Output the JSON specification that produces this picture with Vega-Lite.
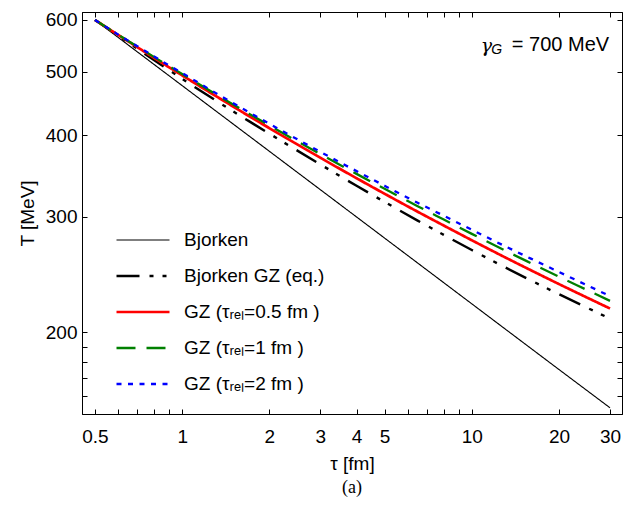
{
  "$schema": "https://vega.github.io/schema/vega-lite/v6.json",
  "width": 540,
  "height": 402,
  "autosize": "none",
  "padding": {"left": 82, "top": 12, "right": 4, "bottom": 99},
  "background": "white",
  "title": {"text": "(a)", "orient": "bottom", "font": "Liberation Serif", "fontSize": 18, "fontWeight": "normal", "color": "black", "offset": 6},
  "config": {
    "view": {"stroke": "black", "strokeWidth": 1},
    "axis": {"domainColor": "black", "tickColor": "black", "labelColor": "black", "titleColor": "black", "labelFont": "Liberation Sans", "titleFont": "Liberation Sans", "labelFontSize": 19, "titleFontSize": 19, "titleFontWeight": "normal", "grid": false, "tickSize": -5, "labelPadding": 10, "labelOverlap": false, "labelFlush": false},
    "legend": {"orient": "none", "legendX": 33, "legendY": 210, "symbolType": "stroke", "symbolSize": 2809, "clipHeight": 36, "rowPadding": 0, "labelFont": "Liberation Sans", "labelFontSize": 19, "labelColor": "black", "labelOffset": 13, "padding": 0, "labelLimit": 400}
  },
  "datasets": {
    "curves": [
      {"tau": 0.5, "T": 600, "s": "Bjorken"},
      {"tau": 1, "T": 476.2, "s": "Bjorken"},
      {"tau": 2, "T": 378.0, "s": "Bjorken"},
      {"tau": 5, "T": 278.5, "s": "Bjorken"},
      {"tau": 10, "T": 221.0, "s": "Bjorken"},
      {"tau": 20, "T": 175.4, "s": "Bjorken"},
      {"tau": 30, "T": 153.3, "s": "Bjorken"},
      {"tau": 0.5, "T": 600, "s": "Bjorken GZ (eq.)"},
      {"tau": 0.6, "T": 568.2, "s": "Bjorken GZ (eq.)"},
      {"tau": 0.7, "T": 542.1, "s": "Bjorken GZ (eq.)"},
      {"tau": 0.85, "T": 511.5, "s": "Bjorken GZ (eq.)"},
      {"tau": 1, "T": 487.8, "s": "Bjorken GZ (eq.)"},
      {"tau": 1.3, "T": 452.6, "s": "Bjorken GZ (eq.)"},
      {"tau": 1.7, "T": 420.3, "s": "Bjorken GZ (eq.)"},
      {"tau": 2.2, "T": 392.0, "s": "Bjorken GZ (eq.)"},
      {"tau": 3, "T": 360.9, "s": "Bjorken GZ (eq.)"},
      {"tau": 4, "T": 334.8, "s": "Bjorken GZ (eq.)"},
      {"tau": 5, "T": 316.3, "s": "Bjorken GZ (eq.)"},
      {"tau": 6.5, "T": 296.2, "s": "Bjorken GZ (eq.)"},
      {"tau": 8, "T": 281.7, "s": "Bjorken GZ (eq.)"},
      {"tau": 10, "T": 267.1, "s": "Bjorken GZ (eq.)"},
      {"tau": 13, "T": 251.4, "s": "Bjorken GZ (eq.)"},
      {"tau": 16, "T": 240.0, "s": "Bjorken GZ (eq.)"},
      {"tau": 20, "T": 228.6, "s": "Bjorken GZ (eq.)"},
      {"tau": 25, "T": 218.0, "s": "Bjorken GZ (eq.)"},
      {"tau": 30, "T": 209.8, "s": "Bjorken GZ (eq.)"},
      {"tau": 0.5, "T": 600, "s": "GZ (τᵣₑₗ=0.5 fm )"},
      {"tau": 0.6, "T": 569.5, "s": "GZ (τᵣₑₗ=0.5 fm )"},
      {"tau": 0.7, "T": 545.2, "s": "GZ (τᵣₑₗ=0.5 fm )"},
      {"tau": 0.85, "T": 516.2, "s": "GZ (τᵣₑₗ=0.5 fm )"},
      {"tau": 1, "T": 493.7, "s": "GZ (τᵣₑₗ=0.5 fm )"},
      {"tau": 1.3, "T": 459.7, "s": "GZ (τᵣₑₗ=0.5 fm )"},
      {"tau": 1.7, "T": 427.9, "s": "GZ (τᵣₑₗ=0.5 fm )"},
      {"tau": 2.2, "T": 400.0, "s": "GZ (τᵣₑₗ=0.5 fm )"},
      {"tau": 3, "T": 369.5, "s": "GZ (τᵣₑₗ=0.5 fm )"},
      {"tau": 4, "T": 343.8, "s": "GZ (τᵣₑₗ=0.5 fm )"},
      {"tau": 5, "T": 325.5, "s": "GZ (τᵣₑₗ=0.5 fm )"},
      {"tau": 6.5, "T": 305.6, "s": "GZ (τᵣₑₗ=0.5 fm )"},
      {"tau": 8, "T": 291.1, "s": "GZ (τᵣₑₗ=0.5 fm )"},
      {"tau": 10, "T": 276.4, "s": "GZ (τᵣₑₗ=0.5 fm )"},
      {"tau": 13, "T": 260.4, "s": "GZ (τᵣₑₗ=0.5 fm )"},
      {"tau": 16, "T": 248.7, "s": "GZ (τᵣₑₗ=0.5 fm )"},
      {"tau": 20, "T": 236.9, "s": "GZ (τᵣₑₗ=0.5 fm )"},
      {"tau": 25, "T": 225.9, "s": "GZ (τᵣₑₗ=0.5 fm )"},
      {"tau": 30, "T": 217.4, "s": "GZ (τᵣₑₗ=0.5 fm )"},
      {"tau": 0.5, "T": 600, "s": "GZ (τᵣₑₗ=1 fm )"},
      {"tau": 0.6, "T": 569.9, "s": "GZ (τᵣₑₗ=1 fm )"},
      {"tau": 0.7, "T": 546.4, "s": "GZ (τᵣₑₗ=1 fm )"},
      {"tau": 0.85, "T": 518.0, "s": "GZ (τᵣₑₗ=1 fm )"},
      {"tau": 1, "T": 496.2, "s": "GZ (τᵣₑₗ=1 fm )"},
      {"tau": 1.3, "T": 462.6, "s": "GZ (τᵣₑₗ=1 fm )"},
      {"tau": 1.7, "T": 431.4, "s": "GZ (τᵣₑₗ=1 fm )"},
      {"tau": 2.2, "T": 404.1, "s": "GZ (τᵣₑₗ=1 fm )"},
      {"tau": 3, "T": 374.2, "s": "GZ (τᵣₑₗ=1 fm )"},
      {"tau": 4, "T": 349.1, "s": "GZ (τᵣₑₗ=1 fm )"},
      {"tau": 5, "T": 331.2, "s": "GZ (τᵣₑₗ=1 fm )"},
      {"tau": 6.5, "T": 311.6, "s": "GZ (τᵣₑₗ=1 fm )"},
      {"tau": 8, "T": 297.3, "s": "GZ (τᵣₑₗ=1 fm )"},
      {"tau": 10, "T": 282.7, "s": "GZ (τᵣₑₗ=1 fm )"},
      {"tau": 13, "T": 266.7, "s": "GZ (τᵣₑₗ=1 fm )"},
      {"tau": 16, "T": 255.0, "s": "GZ (τᵣₑₗ=1 fm )"},
      {"tau": 20, "T": 243.1, "s": "GZ (τᵣₑₗ=1 fm )"},
      {"tau": 25, "T": 232.0, "s": "GZ (τᵣₑₗ=1 fm )"},
      {"tau": 30, "T": 223.3, "s": "GZ (τᵣₑₗ=1 fm )"},
      {"tau": 0.5, "T": 600, "s": "GZ (τᵣₑₗ=2 fm )"},
      {"tau": 0.6, "T": 570.2, "s": "GZ (τᵣₑₗ=2 fm )"},
      {"tau": 0.7, "T": 547.1, "s": "GZ (τᵣₑₗ=2 fm )"},
      {"tau": 0.85, "T": 519.2, "s": "GZ (τᵣₑₗ=2 fm )"},
      {"tau": 1, "T": 497.7, "s": "GZ (τᵣₑₗ=2 fm )"},
      {"tau": 1.3, "T": 464.5, "s": "GZ (τᵣₑₗ=2 fm )"},
      {"tau": 1.7, "T": 433.7, "s": "GZ (τᵣₑₗ=2 fm )"},
      {"tau": 2.2, "T": 406.7, "s": "GZ (τᵣₑₗ=2 fm )"},
      {"tau": 3, "T": 377.2, "s": "GZ (τᵣₑₗ=2 fm )"},
      {"tau": 4, "T": 352.5, "s": "GZ (τᵣₑₗ=2 fm )"},
      {"tau": 5, "T": 334.8, "s": "GZ (τᵣₑₗ=2 fm )"},
      {"tau": 6.5, "T": 315.4, "s": "GZ (τᵣₑₗ=2 fm )"},
      {"tau": 8, "T": 301.3, "s": "GZ (τᵣₑₗ=2 fm )"},
      {"tau": 10, "T": 286.8, "s": "GZ (τᵣₑₗ=2 fm )"},
      {"tau": 13, "T": 270.8, "s": "GZ (τᵣₑₗ=2 fm )"},
      {"tau": 16, "T": 259.1, "s": "GZ (τᵣₑₗ=2 fm )"},
      {"tau": 20, "T": 247.2, "s": "GZ (τᵣₑₗ=2 fm )"},
      {"tau": 25, "T": 235.9, "s": "GZ (τᵣₑₗ=2 fm )"},
      {"tau": 30, "T": 227.1, "s": "GZ (τᵣₑₗ=2 fm )"}
    ],
    "note": [
      {"label": "γG = 700 MeV"}
    ]
  },
  "layer": [
    {
      "data": {"name": "curves"},
      "mark": {"type": "line", "strokeCap": "butt", "interpolate": "monotone", "clip": true},
      "encoding": {
        "x": {"field": "tau", "type": "quantitative", "scale": {"type": "log", "domain": [0.451, 33], "nice": false},
          "axis": {"orient": "bottom", "title": "τ [fm]", "titlePadding": 8, "labelPadding": 18, "values": [0.5, 0.6, 0.7, 0.8, 0.9, 1, 2, 3, 4, 5, 6, 7, 8, 9, 10, 20, 30],
            "labelExpr": "indexof([0.5, 1, 2, 3, 4, 5, 10, 20, 30], datum.value) >= 0 ? toString(datum.value) : ''"}},
        "y": {"field": "T", "type": "quantitative", "scale": {"type": "log", "domain": [150, 617], "nice": false, "zero": false},
          "axis": {"orient": "left", "title": "T [MeV]", "titlePadding": 8, "values": [160, 170, 180, 190, 200, 300, 400, 500, 600],
            "labelExpr": "indexof([200, 300, 400, 500, 600], datum.value) >= 0 ? toString(datum.value) : ''"}},
        "color": {"field": "s", "type": "nominal", "title": null,
          "scale": {"domain": ["Bjorken", "Bjorken GZ (eq.)", "GZ (τᵣₑₗ=0.5 fm )", "GZ (τᵣₑₗ=1 fm )", "GZ (τᵣₑₗ=2 fm )"], "range": ["#000000", "#000000", "#ff0000", "#008000", "#0000ff"]}},
        "strokeDash": {"field": "s", "type": "nominal", "title": null,
          "scale": {"domain": ["Bjorken", "Bjorken GZ (eq.)", "GZ (τᵣₑₗ=0.5 fm )", "GZ (τᵣₑₗ=1 fm )", "GZ (τᵣₑₗ=2 fm )"], "range": [[1, 0], [23, 10, 4, 9, 4, 10], [1, 0], [19, 11], [5, 6.5]]}},
        "strokeWidth": {"field": "s", "type": "nominal", "title": null,
          "scale": {"type": "ordinal", "domain": ["Bjorken", "Bjorken GZ (eq.)", "GZ (τᵣₑₗ=0.5 fm )", "GZ (τᵣₑₗ=1 fm )", "GZ (τᵣₑₗ=2 fm )"], "range": [1.15, 2.4, 2.7, 2.3, 2.3]}}
      }
    },
    {
      "data": {"name": "curves"},
      "mark": {"type": "line", "strokeOpacity": 0},
      "encoding": {
        "x": {"field": "tau", "type": "quantitative", "scale": {"type": "log", "domain": [0.451, 33], "nice": false},
          "axis": {"orient": "top", "title": null, "labels": false, "values": [0.5, 0.6, 0.7, 0.8, 0.9, 1, 2, 3, 4, 5, 6, 7, 8, 9, 10, 20, 30]}},
        "y": {"field": "T", "type": "quantitative", "scale": {"type": "log", "domain": [150, 617], "nice": false, "zero": false},
          "axis": {"orient": "right", "title": null, "labels": false, "values": [160, 170, 180, 190, 200, 300, 400, 500, 600]}}
      }
    },
    {
      "data": {"name": "note"},
      "mark": {"type": "text", "align": "right", "baseline": "middle", "font": "Liberation Sans", "fontSize": 20, "color": "black"},
      "encoding": {
        "x": {"datum": 29.8, "type": "quantitative", "axis": null},
        "y": {"datum": 549.5, "type": "quantitative", "axis": null},
        "text": {"value": "= 700 MeV"}
      }
    },
    {
      "data": {"name": "note"},
      "mark": {"type": "text", "align": "right", "baseline": "middle", "font": "Liberation Sans", "fontSize": 14, "fontStyle": "italic", "color": "black", "dx": -107, "dy": 5},
      "encoding": {
        "x": {"datum": 29.8, "type": "quantitative", "axis": null},
        "y": {"datum": 549.5, "type": "quantitative", "axis": null},
        "text": {"value": "G"}
      }
    },
    {
      "data": {"name": "note"},
      "mark": {"type": "text", "align": "right", "baseline": "middle", "font": "DejaVu Serif", "fontSize": 19, "fontStyle": "italic", "color": "black", "dx": -117, "dy": 1},
      "encoding": {
        "x": {"datum": 29.8, "type": "quantitative", "axis": null},
        "y": {"datum": 549.5, "type": "quantitative", "axis": null},
        "text": {"value": "γ"}
      }
    }
  ],
  "resolve": {"axis": {"x": "independent", "y": "independent"}}
}
